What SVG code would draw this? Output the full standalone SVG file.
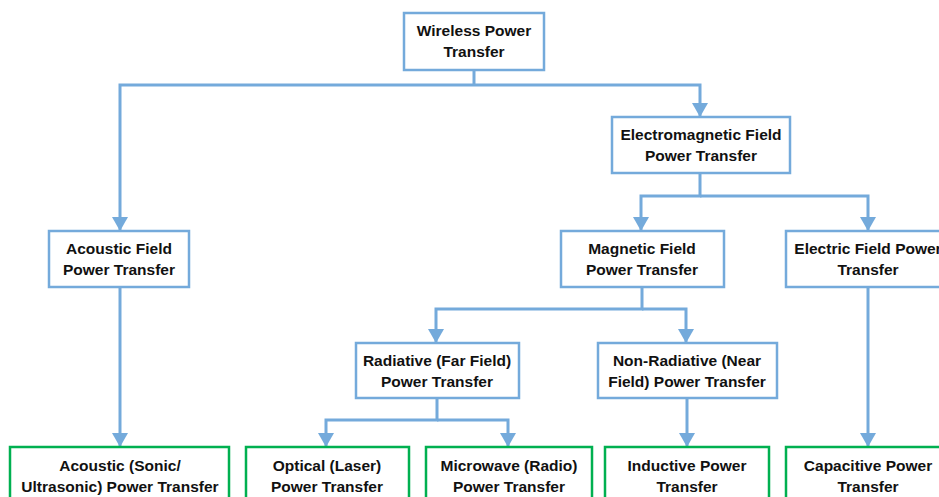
<svg xmlns="http://www.w3.org/2000/svg" width="939" height="497" viewBox="0 0 939 497">
<style>
.b{fill:#fff;stroke:#74AADB;stroke-width:2.5}
.g{fill:#fff;stroke:#00B050;stroke-width:2.5}
.t{font-family:"Liberation Sans",Arial,sans-serif;font-weight:bold;font-size:15.5px;fill:#111;text-anchor:middle}
.c{fill:none;stroke:#74AADB;stroke-width:3}
</style>
<defs>
<marker id="ah" markerUnits="userSpaceOnUse" markerWidth="16" markerHeight="16" refX="14" refY="8" orient="auto">
<path d="M0 0 L14 8 L0 16 Z" fill="#74AADB"/>
</marker>
</defs>
<g id="connectors">
<path class="c" d="M474 70 V85"/>
<path class="c" d="M474 85 H120 V231" marker-end="url(#ah)"/>
<path class="c" d="M474 85 H700 V117" marker-end="url(#ah)"/>
<path class="c" d="M700 173 V196 H641 V231" marker-end="url(#ah)"/>
<path class="c" d="M700 196 H868 V231" marker-end="url(#ah)"/>
<path class="c" d="M120 287 V447" marker-end="url(#ah)"/>
<path class="c" d="M642 287 V309 H436 V343" marker-end="url(#ah)"/>
<path class="c" d="M642 309 H686 V343" marker-end="url(#ah)"/>
<path class="c" d="M868 287 V447" marker-end="url(#ah)"/>
<path class="c" d="M437 398 V420 H326 V447" marker-end="url(#ah)"/>
<path class="c" d="M437 420 H508 V447" marker-end="url(#ah)"/>
<path class="c" d="M687 398 V447" marker-end="url(#ah)"/>
</g>
<g id="wpt"><rect class="b" x="404" y="13" width="140" height="57"/><text class="t" x="474" y="36">Wireless Power</text><text class="t" x="474" y="57">Transfer</text></g>
<g id="em"><rect class="b" x="612" y="117" width="178" height="56"/><text class="t" x="701" y="140">Electromagnetic Field</text><text class="t" x="701" y="161">Power Transfer</text></g>
<g id="acf"><rect class="b" x="49" y="231" width="140" height="56"/><text class="t" x="119" y="254">Acoustic Field</text><text class="t" x="119" y="275">Power Transfer</text></g>
<g id="mag"><rect class="b" x="561" y="231" width="163" height="56"/><text class="t" x="642" y="254">Magnetic Field</text><text class="t" x="642" y="275">Power Transfer</text></g>
<g id="ele"><rect class="b" x="786" y="231" width="164" height="56"/><text class="t" x="868" y="254">Electric Field Power</text><text class="t" x="868" y="275">Transfer</text></g>
<g id="rad"><rect class="b" x="356" y="343" width="163" height="55"/><text class="t" x="437" y="366">Radiative (Far Field)</text><text class="t" x="437" y="387">Power Transfer</text></g>
<g id="nrad"><rect class="b" x="598" y="343" width="179" height="55"/><text class="t" x="687" y="366">Non-Radiative (Near</text><text class="t" x="687" y="387">Field) Power Transfer</text></g>
<g id="aco"><rect class="g" x="10" y="447" width="219" height="60"/><text class="t" x="120" y="471">Acoustic (Sonic/</text><text class="t" x="120" y="492">Ultrasonic) Power Transfer</text></g>
<g id="opt"><rect class="g" x="246" y="447" width="163" height="60"/><text class="t" x="327" y="471">Optical (Laser)</text><text class="t" x="327" y="492">Power Transfer</text></g>
<g id="mic"><rect class="g" x="426" y="447" width="166" height="60"/><text class="t" x="509" y="471">Microwave (Radio)</text><text class="t" x="509" y="492">Power Transfer</text></g>
<g id="ind"><rect class="g" x="605" y="447" width="164" height="60"/><text class="t" x="687" y="471">Inductive Power</text><text class="t" x="687" y="492">Transfer</text></g>
<g id="cap"><rect class="g" x="786" y="447" width="164" height="60"/><text class="t" x="868" y="471">Capacitive Power</text><text class="t" x="868" y="492">Transfer</text></g>
</svg>
